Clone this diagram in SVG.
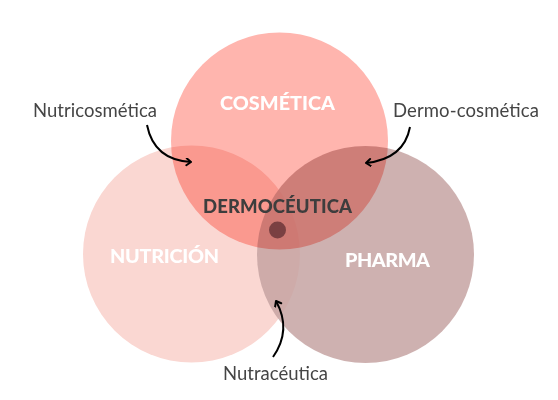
<svg xmlns="http://www.w3.org/2000/svg" width="558" height="400" viewBox="0 0 558 400">
  <defs>
    <marker id="arrow" markerUnits="userSpaceOnUse" markerWidth="10" markerHeight="10" refX="6" refY="4" orient="auto">
      <path d="M1.5,0.5 L6,4 L1.5,7.5" fill="none" stroke="#000" stroke-width="2" stroke-linecap="round" stroke-linejoin="round"/>
    </marker>
  </defs>
  <style>
    .title { font-family: Lato, "Liberation Sans", sans-serif; font-weight: 900; font-size: 19.8px; fill: #ffffff; text-anchor: middle; }
    .center { font-family: Lato, "Liberation Sans", sans-serif; font-weight: 900; font-size: 18.5px; fill: #3d3d3d; text-anchor: middle; }
    .label { font-family: Lato, "Liberation Sans", sans-serif; font-weight: 400; font-size: 18.5px; fill: #454545; }
    .conn { fill: none; stroke: #000; stroke-width: 2; marker-end: url(#arrow); }
  </style>
  <rect width="558" height="400" fill="#ffffff"/>
  <g id="nutricion">
    <circle cx="191.5" cy="254" r="108.5" fill="#fad7d2"/>
  </g>
  <g id="pharma">
    <circle cx="365.5" cy="254.5" r="108.5" fill="#c6a3a2" fill-opacity="0.85"/>
  </g>
  <g id="cosmetica">
    <circle cx="279.5" cy="141" r="108.5" fill="#ffb5ae" style="mix-blend-mode: multiply"/>
  </g>
  <g id="dot">
    <circle cx="277.5" cy="230" r="8.5" fill="#7a4042"/>
  </g>
  <g id="labels-titles">
    <text class="title" x="277.5" y="110" textLength="115">COSMÉTICA</text>
    <text class="title" x="164.5" y="263" textLength="109">NUTRICIÓN</text>
    <text class="title" x="387.5" y="267" textLength="85">PHARMA</text>
    <text class="center" x="277.5" y="213" textLength="149">DERMOCÉUTICA</text>
  </g>
  <g id="label-nutricosmetica">
    <text class="label" x="33" y="117" textLength="124">Nutricosmética</text>
  </g>
  <g id="label-dermocosmetica">
    <text class="label" x="393" y="117" textLength="146">Dermo-cosmética</text>
  </g>
  <g id="label-nutraceutica">
    <text class="label" x="223" y="380" textLength="105">Nutracéutica</text>
  </g>
  <g id="connectors">
    <path class="conn" d="M147,125 Q154,160 191,162"/>
    <path class="conn" d="M410,127 Q404,159 366,163"/>
    <path class="conn" d="M273,357 Q292,330 276,301"/>
  </g>
</svg>
